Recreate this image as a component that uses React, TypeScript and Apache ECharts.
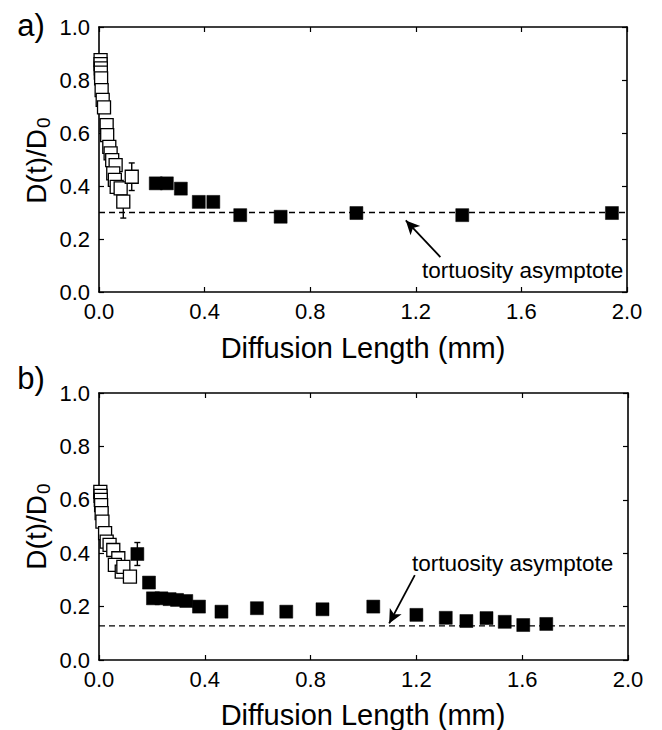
import React, { useEffect, useRef } from "react";
import * as echarts from "echarts";

// ---- Data ----
const xTickValues = [0, 0.4, 0.8, 1.2, 1.6, 2.0];
const yTickValues = [0, 0.2, 0.4, 0.6, 0.8, 1.0];

// Panel a
const openAX = [0.006, 0.006, 0.007, 0.007, 0.008, 0.010, 0.014, 0.019, 0.029, 0.031, 0.039, 0.044, 0.050, 0.063, 0.054, 0.060, 0.067, 0.082, 0.092, 0.124];
const openAY = [0.875, 0.860, 0.844, 0.828, 0.806, 0.762, 0.725, 0.697, 0.630, 0.592, 0.548, 0.523, 0.498, 0.479, 0.448, 0.423, 0.397, 0.391, 0.341, 0.435];
const filledAX = [0.215, 0.257, 0.31, 0.378, 0.433, 0.535, 0.688, 0.975, 1.376, 1.943];
const filledAY = [0.41, 0.41, 0.39, 0.34, 0.34, 0.29, 0.284, 0.298, 0.29, 0.298];
const errAX = [0.092, 0.124];
const errAY = [0.341, 0.435];
const errAE = [0.062, 0.052];
const asymptoteA = 0.3;
const arrowA = [[1.293, 0.132], [1.162, 0.27]];

// Panel b
const openBX = [0.005, 0.006, 0.007, 0.008, 0.010, 0.013, 0.023, 0.029, 0.040, 0.054, 0.073, 0.060, 0.086, 0.092, 0.117];
const openBY = [0.630, 0.615, 0.600, 0.580, 0.550, 0.518, 0.475, 0.443, 0.431, 0.412, 0.381, 0.356, 0.331, 0.349, 0.312];
const filledBX = [0.145, 0.189, 0.204, 0.236, 0.267, 0.295, 0.330, 0.378, 0.463, 0.597, 0.708, 0.845, 1.037, 1.200, 1.311, 1.389, 1.465, 1.534, 1.604, 1.691];
const filledBY = [0.397, 0.290, 0.231, 0.231, 0.228, 0.225, 0.221, 0.200, 0.181, 0.194, 0.181, 0.190, 0.200, 0.169, 0.158, 0.146, 0.157, 0.143, 0.131, 0.135];
const errBX = [0.145];
const errBY = [0.397];
const errBE = [0.043];
const asymptoteB = 0.128;
const arrowB = [[1.194, 0.318], [1.097, 0.137]];

const xTitle = "Diffusion Length (mm)";
const annotation = "tortuosity asymptote";

const FONT = '"Liberation Sans", Arial, Helvetica, sans-serif';

const zip = (xs: number[], ys: number[]) => xs.map((x, i) => [x, ys[i]]);

function makeXAxis(gridIndex: number, position: "bottom" | "top") {
  return {
    type: "value",
    gridIndex,
    position,
    min: xTickValues[0],
    max: xTickValues[xTickValues.length - 1],
    interval: xTickValues[1] - xTickValues[0],
    axisLine: { show: true, onZero: false, lineStyle: { color: "#000", width: 1.6 } },
    axisTick: { show: true, inside: true, length: 5, lineStyle: { color: "#000", width: 1.2 } },
    splitLine: { show: false },
    axisLabel: {
      show: position === "bottom",
      fontSize: 22,
      fontFamily: FONT,
      color: "#000",
      margin: 8,
      formatter: (v: number) => v.toFixed(1),
    },
  };
}

function makeYAxis(gridIndex: number, position: "left" | "right") {
  return {
    type: "value",
    gridIndex,
    position,
    min: yTickValues[0],
    max: yTickValues[yTickValues.length - 1],
    interval: yTickValues[1] - yTickValues[0],
    axisLine: { show: true, onZero: false, lineStyle: { color: "#000", width: 1.6 } },
    axisTick: { show: true, inside: true, length: 5, lineStyle: { color: "#000", width: 1.2 } },
    splitLine: { show: false },
    axisLabel: {
      show: position === "left",
      fontSize: 22,
      fontFamily: FONT,
      color: "#000",
      margin: 9,
      formatter: (v: number) => v.toFixed(1),
    },
  };
}

function errorSeries(axisIndex: number, xs: number[], ys: number[], es: number[]) {
  return {
    type: "custom",
    xAxisIndex: axisIndex,
    yAxisIndex: axisIndex,
    z: 1,
    clip: false,
    data: xs.map((x, i) => [x, ys[i], es[i]]),
    renderItem: (_params: any, api: any) => {
      const x = api.value(0);
      const y = api.value(1);
      const e = api.value(2);
      const t = api.coord([x, y + e]);
      const b = api.coord([x, y - e]);
      const st = { stroke: "#000", lineWidth: 1.4 };
      return {
        type: "group",
        children: [
          { type: "line", shape: { x1: t[0], y1: t[1], x2: b[0], y2: b[1] }, style: st },
          { type: "line", shape: { x1: t[0] - 3, y1: t[1], x2: t[0] + 3, y2: t[1] }, style: st },
          { type: "line", shape: { x1: b[0] - 3, y1: b[1], x2: b[0] + 3, y2: b[1] }, style: st },
        ],
      };
    },
  };
}

function asymptoteSeries(axisIndex: number, value: number, arrow: number[][]) {
  return {
    type: "line",
    xAxisIndex: axisIndex,
    yAxisIndex: axisIndex,
    data: [[xTickValues[0], value], [xTickValues[xTickValues.length - 1], value]],
    symbol: "none",
    z: 1,
    lineStyle: { color: "#000", width: 1.3, type: [6, 4], opacity: 1 },
    markLine: {
      silent: true,
      symbol: ["none", "arrow"],
      symbolSize: [10, 14],
      label: { show: false },
      lineStyle: { color: "#000", width: 1.8, type: "solid", opacity: 1 },
      data: [[{ coord: arrow[0] }, { coord: arrow[1] }]],
    },
  };
}

function openSeries(axisIndex: number, xs: number[], ys: number[]) {
  return {
    type: "scatter",
    xAxisIndex: axisIndex,
    yAxisIndex: axisIndex,
    data: zip(xs, ys),
    symbol: "rect",
    symbolSize: 13,
    clip: false,
    z: 3,
    itemStyle: { color: "#fff", borderColor: "#000", borderWidth: 1.3, opacity: 1 },
  };
}

function filledSeries(axisIndex: number, xs: number[], ys: number[]) {
  return {
    type: "scatter",
    xAxisIndex: axisIndex,
    yAxisIndex: axisIndex,
    data: zip(xs, ys),
    symbol: "rect",
    symbolSize: 13,
    clip: false,
    z: 3,
    itemStyle: { color: "#000", borderColor: "#000", borderWidth: 0.5, opacity: 1 },
  };
}

function yTitle(cx: number, cy: number) {
  return {
    type: "group",
    x: cx,
    y: cy,
    rotation: Math.PI / 2,
    children: [
      {
        type: "text",
        x: 32,
        y: 0,
        style: { text: "D(t)/D", fontSize: 28, fontFamily: FONT, fill: "#000", align: "right", verticalAlign: "middle" },
      },
      {
        type: "text",
        x: 33,
        y: 7,
        style: { text: "0", fontSize: 19, fontFamily: FONT, fill: "#000", align: "left", verticalAlign: "middle" },
      },
    ],
  };
}

function textEl(text: string, x: number, y: number, size: number, align = "center") {
  return {
    type: "text",
    x,
    y,
    style: { text, fontSize: size, fontFamily: FONT, fill: "#000", align, verticalAlign: "middle" },
  };
}

export default function App() {
  const ref = useRef<HTMLDivElement>(null);
  useEffect(() => {
    if (!ref.current) return;
    const chart = echarts.init(ref.current, null, { renderer: "svg" });
    chart.setOption({
      animation: false,
      backgroundColor: "#fff",
      grid: [
        { left: 99, top: 27, width: 528, height: 265 },
        { left: 99, top: 393, width: 529, height: 267 },
      ],
      xAxis: [makeXAxis(0, "bottom"), makeXAxis(0, "top"), makeXAxis(1, "bottom"), makeXAxis(1, "top")],
      yAxis: [makeYAxis(0, "left"), makeYAxis(0, "right"), makeYAxis(1, "left"), makeYAxis(1, "right")],
      series: [
        asymptoteSeries(0, asymptoteA, arrowA),
        errorSeries(0, errAX, errAY, errAE),
        openSeries(0, openAX, openAY),
        filledSeries(0, filledAX, filledAY),
        asymptoteSeries(2, asymptoteB, arrowB),
        errorSeries(2, errBX, errBY, errBE),
        openSeries(2, openBX, openBY),
        filledSeries(2, filledBX, filledBY),
      ],
      graphic: [
        textEl("a)", 31, 25, 31),
        textEl("b)", 31, 378, 31),
        yTitle(36, 161),
        yTitle(36, 527),
        textEl(xTitle, 363, 348, 29),
        textEl(xTitle, 363, 715, 29),
        textEl(annotation, 422, 270, 22.5, "left"),
        textEl(annotation, 412, 563, 22.5, "left"),
      ],
    });
    return () => chart.dispose();
  }, []);
  return (
    <div
      ref={ref}
      style={{ position: "fixed", left: 0, top: 0, width: 662, height: 730, background: "#fff" }}
    />
  );
}
